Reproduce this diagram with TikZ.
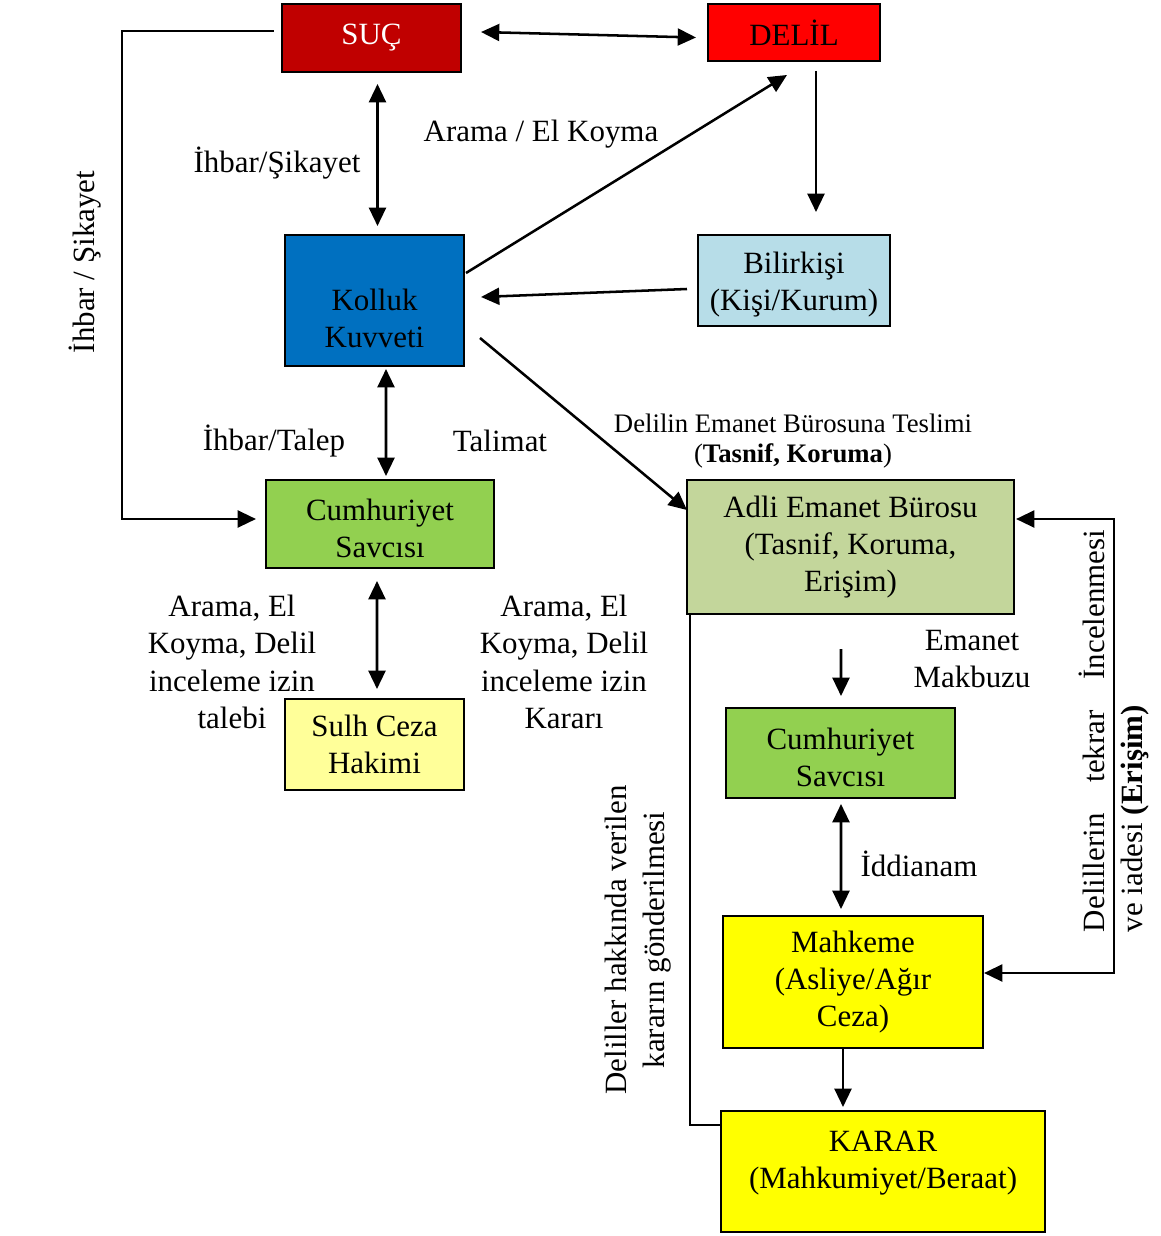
\documentclass[tikz,border=0pt]{standalone}
\usepackage{fontspec}
\setmainfont{Liberation Serif}
\usetikzlibrary{arrows.meta, positioning}
\definecolor{sucred}{HTML}{C00000}
\definecolor{delilred}{HTML}{FF0000}
\definecolor{kollukblue}{HTML}{0070C0}
\definecolor{bilirblue}{HTML}{B7DDE8}
\definecolor{savcigreen}{HTML}{92D050}
\definecolor{sulhyellow}{HTML}{FFFF99}
\definecolor{adligreen}{HTML}{C3D69B}
\definecolor{mahkyellow}{HTML}{FFFF00}
\tikzset{kutu/.style={draw=black, line width=1.4pt, inner sep=0pt, align=center, font=\fontsize{22}{26.5}\selectfont}}
\tikzset{etiket/.style={inner sep=0pt, align=center, font=\fontsize{22}{26.5}\selectfont}}
\tikzset{ok/.style={line width=1.8pt, >={Triangle[length=13pt, width=12pt]}}}

\begin{document}
\begin{tikzpicture}[x=0.025cm, y=-0.025cm]
    \useasboundingbox (0, 0) rectangle (1160, 1236);

    \node[kutu, fill=sucred, text=white, minimum width=4.475cm, minimum height=1.7cm] (suc) at (371.5, 38) {SUÇ};
    \node[kutu, fill=delilred, minimum width=4.3cm, minimum height=1.425cm] (delil) at (794, 32.5) {DELİL};
    \node[kutu, fill=kollukblue, minimum width=4.475cm, minimum height=3.275cm] (kolluk) at (374.5, 300.5) {\rule{0pt}{1.45cm}Kolluk\\Kuvveti};
    \node[kutu, fill=bilirblue, minimum width=4.8cm, minimum height=2.275cm] (bilirkisi) at (794, 280.5) {\rule{0pt}{0.75cm}Bilirkişi\\(Kişi/Kurum)};
    \node[kutu, fill=savcigreen, minimum width=5.7cm, minimum height=2.2cm] (savci) at (380, 524) {\rule{0pt}{0.75cm}Cumhuriyet\\Savcısı};
    \node[kutu, fill=sulhyellow, minimum width=4.475cm, minimum height=2.275cm] (sulh) at (374.5, 744.5) {Sulh Ceza\\Hakimi};
    \node[kutu, fill=adligreen, minimum width=8.175cm, minimum height=3.35cm] (adli) at (850.5, 547) {Adli Emanet Bürosu\\(Tasnif, Koruma,\\Erişim)};
    \node[kutu, fill=savcigreen, minimum width=5.725cm, minimum height=2.25cm] (savciiki) at (840.5, 753) {\rule{0pt}{0.75cm}Cumhuriyet\\Savcısı};
    \node[kutu, fill=mahkyellow, minimum width=6.5cm, minimum height=3.3cm] (mahkeme) at (853, 982) {Mahkeme\\(Asliye/Ağır\\Ceza)};
    \node[kutu, fill=mahkyellow, minimum width=8.1cm, minimum height=3.025cm, text depth=0.6cm] (karar) at (883, 1171.5) {KARAR\\(Mahkumiyet/Beraat)};

    \node[etiket, rotate=90] (ihbarsol) at (85, 262) {İhbar / Şikayet};
    \node[etiket] (ihbarsikayet) at (277, 163) {İhbar/Şikayet};
    \node[etiket] (aramael) at (541, 134) {Arama / El Koyma};
    \node[etiket] (ihbartalep) at (274, 441) {İhbar/Talep};
    \node[etiket] (talimat) at (500, 441) {Talimat};
    \node[etiket, font=\fontsize{19}{21.5}\selectfont] (teslim) at (793, 441) {Delilin Emanet Bürosuna Teslimi\\(\textbf{Tasnif, Koruma})};
    \node[etiket] (talebi) at (232, 662) {Arama, El\\Koyma, Delil\\inceleme izin\\talebi};
    \node[etiket] (karari) at (564, 662) {Arama, El\\Koyma, Delil\\inceleme izin\\Kararı};
    \node[etiket] (makbuz) at (972, 659) {Emanet\\Makbuzu};
    \node[etiket] (iddia) at (919, 864) {İddianam};
    \node[etiket, rotate=90] (gonder) at (638, 940) {Deliller hakkında verilen\\kararın gönderilmesi};
    \node[etiket, rotate=90, align=left] (erisim) at (1114, 731) {\makebox[10.05cm][s]{Delillerin tekrar İncelenmesi}\\ve iadesi \textbf{(Erişim)}};

    \draw[ok]
    ([shift={(19,-6)}]suc.east) edge[<->] ([shift={(-11,5)}]delil.west)
    ([shift={(6,11)}]suc.south) edge[<->] ([shift={(3,-8)}]kolluk.north)
    ([shift={(1,-27.5)}]kolluk.east) edge[->] ([shift={(-7,13)}]delil.south)
    ([shift={(22,9)}]delil.south) edge[->] ([shift={(22,-22)}]bilirkisi.north)
    ([shift={(-10,8.5)}]bilirkisi.west) edge[->] ([shift={(16,-3.5)}]kolluk.east)
    ([shift={(11.5,2)}]kolluk.south) edge[<->] ([shift={(6,-3)}]savci.north)
    ([shift={(15,37.5)}]kolluk.east) edge[->] ([shift={(1,-37)}]adli.west)
    ([shift={(-3,12)}]savci.south) edge[<->] ([shift={(2.5,-9)}]sulh.north)
    ([shift={(-9.5,34)}]adli.south) edge[->] ([shift={(0.5,-11)}]savciiki.north)
    ([shift={(0.5,5)}]savciiki.south) edge[<->] ([shift={(-12,-6)}]mahkeme.north)
    ([shift={(-10,0)}]mahkeme.south) edge[->] ([shift={(-40,-3)}]karar.north);

    \draw[ok, ->] ([shift={(-7,-7)}]suc.west) -- ++(-152, 0) |- ([shift={(-9,-5)}]savci.west);
    \draw[ok, <->] ([shift={(1,-28)}]adli.east) -- ++(98, 0) |- ([shift={(0,-9)}]mahkeme.east);
    \draw[ok] ([shift={(4,0)}]adli.south west) |- ([shift={(0,-46.5)}]karar.west);
\end{tikzpicture}
\end{document}
